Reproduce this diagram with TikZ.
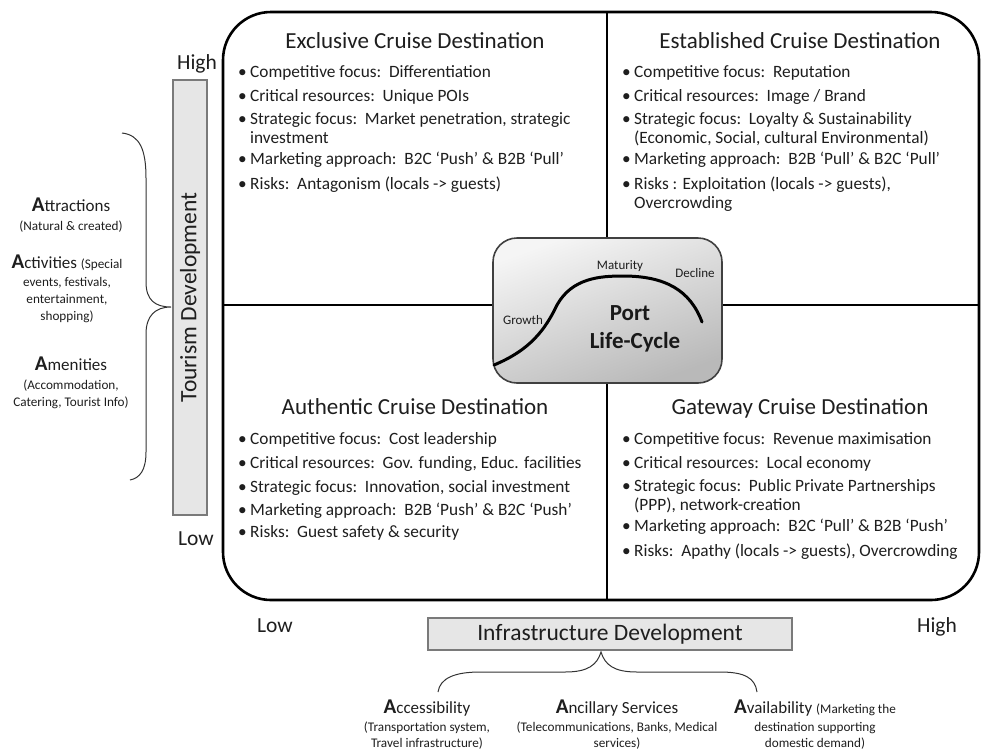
\documentclass[tikz,border=0pt]{standalone}
\usepackage{fontspec}
\setmainfont{Carlito}
\definecolor{txt}{HTML}{1E1E1E}
\definecolor{barfill}{HTML}{E6E6E6}
\definecolor{barline}{HTML}{7A7A7A}
\begin{document}
\begin{tikzpicture}[x=1pt,y=-1pt,
  bl/.style={anchor=base west,inner sep=0pt,text=txt,font=\fontsize{17.3}{20}\selectfont},
  ttl/.style={anchor=base,inner sep=0pt,text=txt,font=\fontsize{23}{26}\selectfont},
  lvl/.style={anchor=base,inner sep=0pt,text=txt,font=\fontsize{21.5}{24}\selectfont},
  sm/.style={anchor=base,inner sep=0pt,text=txt,font=\fontsize{13.2}{15}\selectfont},
  big/.style={anchor=base,inner sep=0pt,text=txt,font=\fontsize{17}{19}\selectfont},
  bar/.style={draw=barline,fill=barfill,line width=1.2pt},
  lc/.style={inner sep=0pt,text=txt,font=\fontsize{13}{15}\selectfont},
  plcs/.style={anchor=base,inner sep=0pt,text=black!90,font=\fontsize{23}{26}\selectfont\bfseries}
]
\useasboundingbox (0,0) rectangle (981,750);
\newcommand{\BA}{{\fontsize{21}{24}\selectfont\bfseries A}}
\newcommand{\bu}{\makebox[12pt][l]{\textbullet}}
% main frame
\draw[line width=2.6pt,rounded corners=48] (223,12) rectangle (979,600);
\coordinate (vt) at (607,12); \coordinate (vb) at (607,600);
\coordinate (hl) at (223,305); \coordinate (hr) at (979,305);
\draw[line width=1.8pt] (vt) -- (vb);
\draw[line width=1.8pt] (hl) -- (hr);
% center box
\node[draw=black!75,line width=1.6pt,rounded corners=24,minimum width=229pt,minimum height=145pt,
  shading=axis,top color=white!92!gray,bottom color=gray!55,shading angle=20] (plc) at (607.5,310.5) {};
\draw[line width=3pt,line cap=round] (494,365) .. controls (530,350) and (545,330) .. (557,305)
  .. controls (572,278) and (600,276) .. (623,276)
  .. controls (665,276) and (690,290) .. (702,322);
\node[lc] (gr) at (523,320) {Growth};
\node[lc] (ma) at (620,266) {Maturity};
\node[lc] (de) at (695,273) {Decline};
\node[plcs] (plab1) at (630,320) {Port};
\node[plcs] (plab2) at (635,348) {Life-Cycle};
% quadrant titles
\node[ttl] (t1) at (415,48) {Exclusive Cruise Destination};
\node[ttl] (t2) at (800,48) {Established Cruise Destination};
\node[ttl] (t3) at (415,414) {Authentic Cruise Destination};
\node[ttl] (t4) at (800,414) {Gateway Cruise Destination};
% TL
\node[bl] (a1) at (238,77) {\bu Competitive focus:\ \ Differentiation};
\node[bl] (a2) at (238,101) {\bu Critical resources:\ \ Unique POIs};
\node[bl] (a3) at (238,124) {\bu Strategic focus:\ \ Market penetration, strategic};
\node[bl] (a3b) at (250,143) {investment};
\node[bl] (a4) at (238,164) {\bu Marketing approach:\ \ B2C ‘Push’ \& B2B ‘Pull’};
\node[bl] (a5) at (238,189) {\bu Risks:\ \ Antagonism (locals -> guests)};
% TR
\node[bl] (b1) at (622,77) {\bu Competitive focus:\ \ Reputation};
\node[bl] (b2) at (622,101) {\bu Critical resources:\ \ Image / Brand};
\node[bl] (b3) at (622,124) {\bu Strategic focus:\ \ Loyalty \& Sustainability};
\node[bl] (b3b) at (634,143) {(Economic, Social, cultural Environmental)};
\node[bl] (b4) at (622,164) {\bu Marketing approach:\ \ B2B ‘Pull’ \& B2C ‘Pull’};
\node[bl] (b5) at (622,189) {\bu Risks : Exploitation (locals -> guests),};
\node[bl] (b5b) at (634,208) {Overcrowding};
% BL
\node[bl] (c1) at (238,444) {\bu Competitive focus:\ \ Cost leadership};
\node[bl] (c2) at (238,468) {\bu Critical resources:\ \ Gov. funding, Educ. facilities};
\node[bl] (c3) at (238,492) {\bu Strategic focus:\ \ Innovation, social investment};
\node[bl] (c4) at (238,515) {\bu Marketing approach:\ \ B2B ‘Push’ \& B2C ‘Push’};
\node[bl] (c5) at (238,537) {\bu Risks:\ \ Guest safety \& security};
% BR
\node[bl] (d1) at (622,444) {\bu Competitive focus:\ \ Revenue maximisation};
\node[bl] (d2) at (622,468) {\bu Critical resources:\ \ Local economy};
\node[bl] (d3) at (622,491) {\bu Strategic focus:\ \ Public Private Partnerships};
\node[bl] (d3b) at (634,510) {(PPP), network-creation};
\node[bl] (d4) at (622,531) {\bu Marketing approach:\ \ B2C ‘Pull’ \& B2B ‘Push’};
\node[bl] (d5) at (622,556) {\bu Risks:\ \ Apathy (locals -> guests), Overcrowding};
% vertical bar
\node[bar,minimum width=34pt,minimum height=435pt] (vbar) at (190,297.5) {};
\node[rotate=90,inner sep=0pt,text=txt,font=\fontsize{23.5}{26}\selectfont] (vlab) at (vbar.center) {Tourism Development};
\node[lvl] (hi1) at (197,69) {High};
\node[lvl] (lo1) at (196,545) {Low};
% horizontal bar
\node[bar,minimum width=364pt,minimum height=32pt] (hbar) at (610,634) {};
\node[inner sep=0pt,text=txt,font=\fontsize{23.5}{26}\selectfont] (hlab) at (hbar.center) {Infrastructure Development};
\node[lvl] (lo2) at (275,632) {Low};
\node[lvl] (hi2) at (937,632) {High};
% left brace
\coordinate (lb1) at (122,133); \coordinate (lbt) at (171,307); \coordinate (lb2) at (130,480);
\draw[line width=1pt,black!80] (lb1) .. controls (140,135) and (146,150) .. (146,178) -- (146,282)
  .. controls (146,300) and (155,307) .. (lbt)
  .. controls (155,307) and (146,316) .. (146,334) -- (146,452)
  .. controls (146,470) and (140,478) .. (lb2);
% bottom brace
\coordinate (bb1) at (438,692); \coordinate (bbt) at (601,652); \coordinate (bb2) at (757,692);
\draw[line width=1pt,black!80] (bb1) .. controls (440,678) and (455,672) .. (480,672) -- (565,672)
  .. controls (588,672) and (597,665) .. (bbt)
  .. controls (605,665) and (614,672) .. (637,672) -- (720,672)
  .. controls (745,672) and (755,678) .. (bb2);
% left texts
\node[big] (l1) at (71,211) {\BA ttractions};
\node[sm] (l1b) at (71,230) {(Natural \& created)};
\node[big] (l2) at (67,268) {\BA ctivities {\fontsize{13.2}{15}\selectfont(Special}};
\node[sm] (l2b) at (67,286) {events, festivals,};
\node[sm] (l2c) at (67,303) {entertainment,};
\node[sm] (l2d) at (67,320) {shopping)};
\node[big] (l3) at (71,370) {\BA menities};
\node[sm] (l3b) at (71,389) {(Accommodation,};
\node[sm] (l3c) at (71,406) {Catering, Tourist Info)};
% bottom texts
\node[big] (m1) at (427,713) {\BA ccessibility};
\node[sm] (m1b) at (427,731) {(Transportation system,};
\node[sm] (m1c) at (427,747) {Travel infrastructure)};
\node[big] (m2) at (617,713) {\BA ncillary Services};
\node[sm] (m2b) at (617,731) {(Telecommunications, Banks, Medical};
\node[sm] (m2c) at (617,747) {services)};
\node[big] (m3) at (815,713) {\BA vailability {\fontsize{13.2}{15}\selectfont(Marketing the}};
\node[sm] (m3b) at (815,731) {destination supporting};
\node[sm] (m3c) at (815,747) {domestic demand)};
\end{tikzpicture}
\end{document}
